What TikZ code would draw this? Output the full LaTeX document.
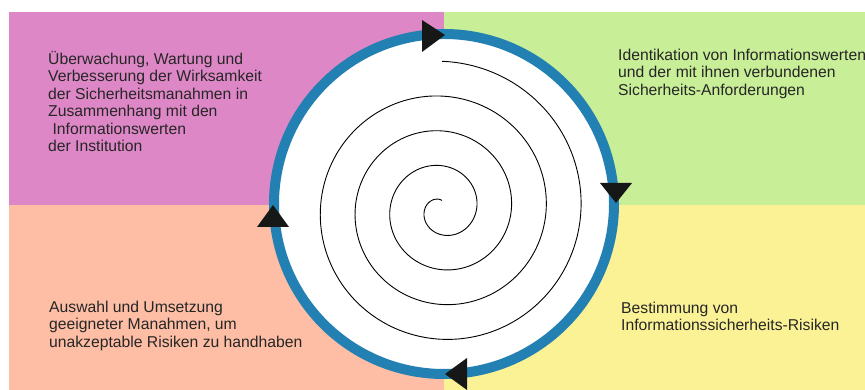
\documentclass[tikz,border=0pt]{standalone}
\usepackage{fontspec}
\setmainfont{Liberation Sans}
\usepackage{xcolor}
\usetikzlibrary{positioning}

\definecolor{rosa}{RGB}{222,135,198}
\definecolor{hellgruen}{RGB}{200,238,152}
\definecolor{lachs}{RGB}{253,190,165}
\definecolor{hellgelb}{RGB}{251,242,150}
\definecolor{ringblau}{RGB}{34,128,178}
\definecolor{pfeilschwarz}{RGB}{21,24,23}

\tikzset{
  feldtext/.style={anchor=north west, align=left, inner sep=0pt,
    font=\fontsize{15.7}{17.5}\selectfont, text=black!85},
  pfeilspitze/.style={fill=pfeilschwarz},
}

\begin{document}
\begin{tikzpicture}[x=1pt,y=1pt]
            \useasboundingbox (0,0) rectangle (865,390);
            % Quadrants
            \fill[rosa] (9,185) rectangle (444,378);
            \fill[hellgruen] (444,185) rectangle (865,378);
            \fill[lachs] (9,0) rectangle (444,185);
            \fill[hellgelb] (444,0) rectangle (865,185);

            % Ring
            \draw[ringblau, line width=10pt, fill=white] (444,186) circle (170);

            % Spiral
            \draw[line width=0.9pt] plot[domain=90:1530, samples=500, variable=\t, smooth]
              ({442+(8.5+(\t-90)*0.09667)*cos(\t)}, {181+(8.5+(\t-90)*0.09667)*sin(\t)});

            % Arrow heads on the ring
            \fill[pfeilspitze] (422,370) -- (422,338) -- (445,355) -- cycle;
            \fill[pfeilspitze] (600,207) -- (632,207) -- (616,187) -- cycle;
            \fill[pfeilspitze] (467,32) -- (467,0) -- (445,16) -- cycle;
            \fill[pfeilspitze] (257,163) -- (289,163) -- (273,185) -- cycle;

            % Labels of the quadrants
            \node[feldtext] (ueberwachung) at (48,339.25) {\strut Überwachung, Wartung und\\
              Verbesserung der Wirksamkeit\\
              der Sicherheitsmanahmen in\\
              Zusammenhang mit den\\
              \ Informationswerten\\
              der Institution};
            \node[feldtext] (identikation) at (618,342.25) {\strut Identikation von Informationswerten\\
              und der mit ihnen verbundenen\\
              Sicherheits-Anforderungen};
            \node[feldtext] (auswahl) at (49,90.25) {\strut Auswahl und Umsetzung\\
              geeigneter Manahmen, um\\
              unakzeptable Risiken zu handhaben};
            \node[feldtext] (bestimmung) at (621,89.25) {\strut Bestimmung von\\
              Informationssicherheits-Risiken};
        \end{tikzpicture}
\end{document}
